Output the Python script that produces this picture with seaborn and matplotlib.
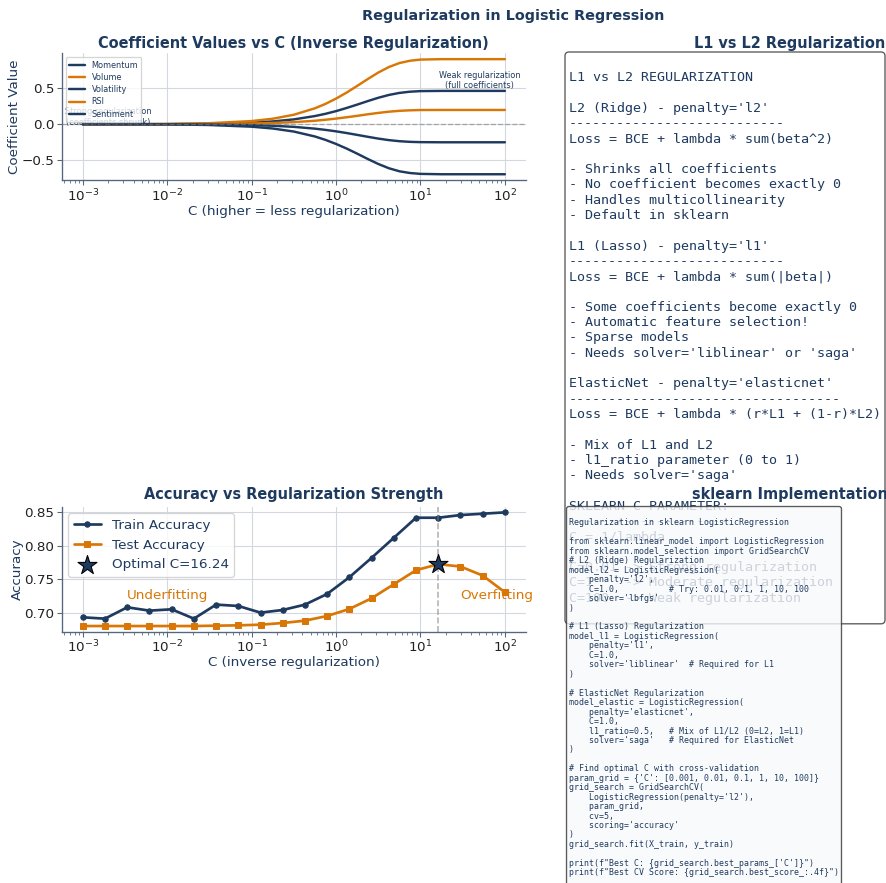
import matplotlib
matplotlib.use("Agg")
import matplotlib.pyplot as plt
import seaborn as sns

NAVY = "#1e3a5f"
ORANGE = "#d97706"
SPINE = "#56667c"
GRID = "#d3d8e0"

# ---- coefficient path (L2 penalty) ----
path_C = [0.001, 0.01, 0.03, 0.1, 0.178, 0.316, 0.562, 0.75, 1.0, 1.33,
          1.78, 2.37, 3.16, 4.22, 5.62, 7.5, 10.0, 17.8, 31.6, 100.0]
feature_names = ["Momentum", "Volume", "Volatility", "RSI", "Sentiment"]
coef_momentum = [0.0002, 0.002, 0.007, 0.023, 0.039, 0.067, 0.113, 0.144, 0.181, 0.224,
                 0.271, 0.319, 0.365, 0.404, 0.432, 0.449, 0.457, 0.46, 0.46, 0.46]
coef_volume = [0.0004, 0.004, 0.013, 0.044, 0.076, 0.131, 0.220, 0.281, 0.354, 0.436,
               0.529, 0.623, 0.713, 0.789, 0.844, 0.876, 0.892, 0.898, 0.898, 0.898]
coef_volatility = [-0.0003, -0.003, -0.010, -0.034, -0.059, -0.101, -0.169, -0.216, -0.272, -0.335,
                   -0.406, -0.479, -0.548, -0.607, -0.649, -0.673, -0.685, -0.69, -0.69, -0.69]
coef_rsi = [0.0001, 0.001, 0.003, 0.010, 0.017, 0.029, 0.048, 0.062, 0.078, 0.096,
            0.116, 0.137, 0.156, 0.173, 0.185, 0.192, 0.196, 0.197, 0.197, 0.197]
coef_sentiment = [-0.0001, -0.001, -0.004, -0.012, -0.021, -0.036, -0.061, -0.078, -0.098, -0.121,
                  -0.147, -0.173, -0.198, -0.219, -0.234, -0.243, -0.247, -0.249, -0.249, -0.249]
coef_series = [coef_momentum, coef_volume, coef_volatility, coef_rsi, coef_sentiment]
feature_colors = [NAVY, ORANGE, NAVY, ORANGE, NAVY]

# ---- accuracy vs C ----
acc_C = [0.001, 0.00183, 0.00336, 0.00616, 0.01129, 0.02069, 0.03793, 0.06952, 0.12743, 0.23357,
         0.42813, 0.78476, 1.43845, 2.63665, 4.83293, 8.85867, 16.2378, 29.7635, 54.5559, 100.0]
train_acc = [0.693, 0.691, 0.708, 0.703, 0.705, 0.691, 0.712, 0.710, 0.700, 0.704,
             0.712, 0.728, 0.753, 0.782, 0.812, 0.842, 0.842, 0.846, 0.848, 0.850]
test_acc = [0.680, 0.680, 0.680, 0.680, 0.680, 0.680, 0.6805, 0.681, 0.682, 0.6845,
            0.688, 0.695, 0.7055, 0.7215, 0.7425, 0.7635, 0.7725, 0.769, 0.7555, 0.7305]

l1_l2_text = """
L1 vs L2 REGULARIZATION

L2 (Ridge) - penalty='l2'
---------------------------
Loss = BCE + lambda * sum(beta^2)

- Shrinks all coefficients
- No coefficient becomes exactly 0
- Handles multicollinearity
- Default in sklearn

L1 (Lasso) - penalty='l1'
---------------------------
Loss = BCE + lambda * sum(|beta|)

- Some coefficients become exactly 0
- Automatic feature selection!
- Sparse models
- Needs solver='liblinear' or 'saga'

ElasticNet - penalty='elasticnet'
----------------------------------
Loss = BCE + lambda * (r*L1 + (1-r)*L2)

- Mix of L1 and L2
- l1_ratio parameter (0 to 1)
- Needs solver='saga'

SKLEARN C PARAMETER:
--------------------
C = 1/lambda

C=0.01 -> Strong regularization
C=1    -> Moderate regularization
C=100  -> Weak regularization
"""

sklearn_code = """
Regularization in sklearn LogisticRegression

from sklearn.linear_model import LogisticRegression
from sklearn.model_selection import GridSearchCV
# L2 (Ridge) Regularization
model_l2 = LogisticRegression(
    penalty='l2',
    C=1.0,          # Try: 0.01, 0.1, 1, 10, 100
    solver='lbfgs'
)

# L1 (Lasso) Regularization
model_l1 = LogisticRegression(
    penalty='l1',
    C=1.0,
    solver='liblinear'  # Required for L1
)

# ElasticNet Regularization
model_elastic = LogisticRegression(
    penalty='elasticnet',
    C=1.0,
    l1_ratio=0.5,   # Mix of L1/L2 (0=L2, 1=L1)
    solver='saga'   # Required for ElasticNet
)

# Find optimal C with cross-validation
param_grid = {'C': [0.001, 0.01, 0.1, 1, 10, 100]}
grid_search = GridSearchCV(
    LogisticRegression(penalty='l2'),
    param_grid,
    cv=5,
    scoring='accuracy'
)
grid_search.fit(X_train, y_train)

print(f"Best C: {grid_search.best_params_['C']}")
print(f"Best CV Score: {grid_search.best_score_:.4f}")
"""

sns.set_theme(style="ticks", rc={
    "axes.grid": True,
    "grid.color": GRID,
    "grid.linewidth": 0.8,
    "axes.edgecolor": SPINE,
    "axes.linewidth": 1.0,
    "xtick.color": SPINE,
    "ytick.color": SPINE,
    "xtick.labelcolor": "#222222",
    "ytick.labelcolor": "#222222",
    "xtick.labelsize": 10,
    "ytick.labelsize": 10,
    "xtick.major.size": 3.5,
    "ytick.major.size": 3.5,
    "xtick.minor.size": 2,
    "ytick.minor.size": 2,
    "xtick.major.width": 0.8,
    "ytick.major.width": 0.8,
    "xtick.minor.width": 0.6,
    "ytick.minor.width": 0.6,
    "xtick.major.pad": 2,
    "ytick.major.pad": 2,
    "axes.labelcolor": NAVY,
    "axes.labelsize": 10,
    "axes.labelpad": 0.5,
})
plt.rcParams["font.family"] = ["DejaVu Sans"]

W, H, DPI = 886, 883, 97
fig = plt.figure(figsize=(W / DPI, H / DPI), dpi=DPI)


def rect(left, top, right, bottom):
    return [left / W, 1 - bottom / H, (right - left) / W, (bottom - top) / H]


ax_coef = fig.add_axes(rect(61.7, 53.4, 526, 180))
ax_l1l2 = fig.add_axes(rect(558, 53.4, 1022, 180))
ax_acc = fig.add_axes(rect(61.7, 506.7, 526, 631.7))
ax_code = fig.add_axes(rect(558, 506.7, 1022, 631.7))

title_kw = dict(fontsize=10.8, fontweight="bold", color=NAVY)

# ---- coefficient paths ----
for name, vals, col in zip(feature_names, coef_series, feature_colors):
    sns.lineplot(x=path_C, y=vals, ax=ax_coef, color=col, linewidth=1.8, label=name)
ax_coef.axhline(0, color="gray", linestyle="--", linewidth=1, alpha=0.6)
ax_coef.set_xscale("log")
ax_coef.set_xlabel("C (higher = less regularization)")
ax_coef.set_ylabel("Coefficient Value")
ax_coef.set_title("Coefficient Values vs C (Inverse Regularization)", pad=4, **title_kw)
ax_coef.text(0.002, 0.1, "Strong regularization\n(coefficients shrunk)", ha="center",
             va="center", fontsize=6, color=NAVY)
ax_coef.text(50, 0.6, "Weak regularization\n(full coefficients)", ha="center",
             va="center", fontsize=6, color=NAVY)
ax_coef.legend(loc="upper left", fontsize=6, framealpha=0.8, labelcolor=NAVY,
               labelspacing=0.4)
sns.despine(ax=ax_coef)

# ---- accuracy vs C ----
sns.lineplot(x=acc_C, y=train_acc, ax=ax_acc, color=NAVY, linewidth=2, marker="o",
             markersize=4, markeredgecolor=NAVY, label="Train Accuracy")
sns.lineplot(x=acc_C, y=test_acc, ax=ax_acc, color=ORANGE, linewidth=2, marker="s",
             markersize=4, markeredgecolor=ORANGE, label="Test Accuracy")
best_i = max(range(len(test_acc)), key=lambda i: test_acc[i])
best_C = acc_C[best_i]
ax_acc.axvline(best_C, color="gray", linestyle="--", linewidth=1.2, alpha=0.6)
sns.scatterplot(x=[best_C], y=[test_acc[best_i]], ax=ax_acc, marker="*", s=220,
                color=NAVY, edgecolor="black", linewidth=0.8, zorder=5,
                label=f"Optimal C={best_C:.2f}")
ax_acc.set_xscale("log")
ax_acc.set_xlabel("C (inverse regularization)")
ax_acc.set_ylabel("Accuracy")
ax_acc.set_title("Accuracy vs Regularization Strength", **title_kw)
ax_acc.text(0.01, 0.72, "Underfitting", ha="center", fontsize=10, color=ORANGE)
ax_acc.text(80, 0.72, "Overfitting", ha="center", fontsize=10, color=ORANGE)
ax_acc.legend(loc="upper left", fontsize=10, framealpha=0.8, labelcolor=NAVY)
sns.despine(ax=ax_acc)

# ---- text panels ----
ax_l1l2.axis("off")
ax_l1l2.set_title("L1 vs L2 Regularization", pad=4, **title_kw)
ax_l1l2.text(11 / 464, (180 - 56) / 126.6, l1_l2_text, transform=ax_l1l2.transAxes,
             va="top", ha="left", family="DejaVu Sans Mono", fontsize=9.9, color=NAVY,
             linespacing=1.23,
             bbox=dict(boxstyle="round", facecolor="white", edgecolor="#333333",
                       linewidth=1.0, alpha=0.8))

ax_code.axis("off")
ax_code.set_title("sklearn Implementation", **title_kw)
ax_code.text(11 / 464, (631.7 - 509) / 125, sklearn_code, transform=ax_code.transAxes,
             va="top", ha="left", family="DejaVu Sans Mono", fontsize=6.15, color=NAVY,
             linespacing=1.065,
             bbox=dict(boxstyle="round", facecolor="#f8f9fa", edgecolor="#333333",
                       linewidth=1.0, alpha=0.8))

fig.suptitle("Regularization in Logistic Regression", x=513 / W, y=1 - 16 / H,
             va="center", fontsize=10.7, fontweight="bold", color=NAVY)

fig.savefig("out.png", dpi=DPI)
